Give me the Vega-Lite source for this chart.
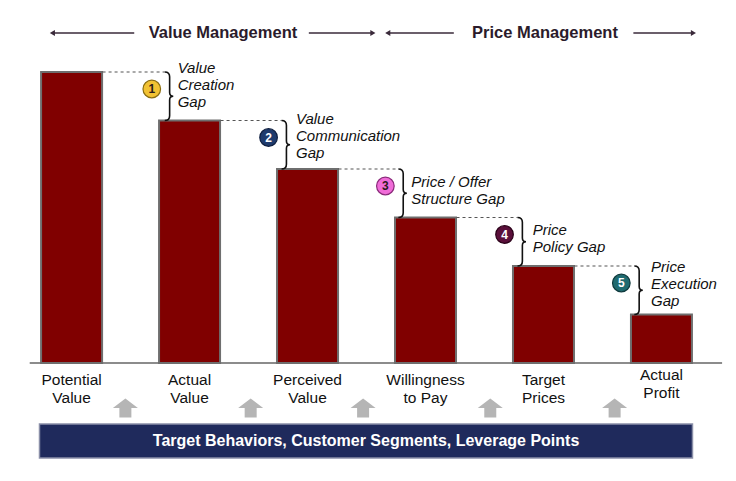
{
  "$schema": "https://vega.github.io/schema/vega-lite/v6.json",
  "width": 736,
  "height": 481,
  "padding": 0,
  "autosize": {"type": "none"},
  "background": "white",
  "config": {"view": {"stroke": null}, "font": "Liberation Sans"},
  "datasets": {
    "bars": [
      {"i": 0, "value": 6, "label": "Potential\nValue", "ly": -0.351},
      {"i": 1, "value": 5, "label": "Actual\nValue", "ly": -0.351},
      {"i": 2, "value": 4, "label": "Perceived\nValue", "ly": -0.351},
      {"i": 3, "value": 3, "label": "Willingness\nto Pay", "ly": -0.351},
      {"i": 4, "value": 2, "label": "Target\nPrices", "ly": -0.351},
      {"i": 5, "value": 1, "label": "Actual\nProfit", "ly": -0.247}
    ],
    "gaps": [
      {"gap": 1, "from": 0, "top": 6, "x": 0.79, "label": "Value\nCreation\nGap", "lx": 0.899, "ly": 6.082},
      {"gap": 2, "from": 1, "top": 5, "x": 1.78, "label": "Value\nCommunication\nGap", "lx": 1.902, "ly": 5.031},
      {"gap": 3, "from": 2, "top": 4, "x": 2.77, "label": "Price / Offer\nStructure Gap", "lx": 2.88, "ly": 3.732},
      {"gap": 4, "from": 3, "top": 3, "x": 3.78, "label": "Price\nPolicy Gap", "lx": 3.909, "ly": 2.742},
      {"gap": 5, "from": 4, "top": 2, "x": 4.77, "label": "Price\nExecution\nGap", "lx": 4.912, "ly": 1.979}
    ],
    "uparrows": [{"x": 0.456}, {"x": 1.518}, {"x": 2.471}, {"x": 3.549}, {"x": 4.603}],
    "banner": [
      {"text": "Target Behaviors, Customer Segments, Leverage Points", "x1": -0.272, "x2": 5.263, "y1": -1.258, "y2": -1.959, "xc": 2.496, "yc": -1.608}
    ],
    "headers": [
      {"label": "Value Management", "xc": 1.283, "y": 6.804},
      {"label": "Price Management", "xc": 4.013, "y": 6.804}
    ],
    "harrows": [
      {"x1": -0.163, "x2": 0.531, "head": -0.163, "dir": "left", "y": 6.804},
      {"x1": 2.011, "x2": 2.554, "head": 2.554, "dir": "right", "y": 6.804},
      {"x1": 2.68, "x2": 3.24, "head": 2.68, "dir": "left", "y": 6.804},
      {"x1": 4.762, "x2": 5.271, "head": 5.271, "dir": "right", "y": 6.804}
    ]
  },
  "layer": [
    {
      "data": {"values": [{}]},
      "mark": {"type": "rule", "stroke": "#8c8c8c", "strokeWidth": 2},
      "encoding": {
        "x": {"datum": -0.355, "type": "quantitative", "scale": {"domain": [-0.5644, 5.5895], "nice": false, "zero": false}, "axis": null},
        "x2": {"datum": 5.514},
        "y": {"datum": 0, "type": "quantitative", "scale": {"domain": [-2.433, 7.4845], "nice": false, "zero": false}, "axis": null}
      }
    },
    {
      "data": {"name": "bars"},
      "mark": {"type": "bar", "width": 61, "orient": "vertical", "fill": "#800000", "stroke": "#6e6e6e", "strokeWidth": 2},
      "encoding": {
        "x": {"field": "i", "type": "quantitative", "axis": null},
        "y": {"field": "value", "type": "quantitative", "axis": null},
        "y2": {"datum": 0}
      }
    },
    {
      "data": {"name": "bars"},
      "mark": {"type": "text", "align": "center", "baseline": "middle", "lineBreak": "\n", "lineHeight": 18, "fontSize": 15.5, "fill": "#111111", "font": "Liberation Sans"},
      "encoding": {
        "x": {"field": "i", "type": "quantitative", "axis": null},
        "y": {"field": "ly", "type": "quantitative", "axis": null},
        "text": {"field": "label"}
      }
    },
    {
      "data": {"name": "gaps"},
      "mark": {"type": "rule", "stroke": "#555555", "strokeWidth": 1.2, "strokeDash": [3, 3], "xOffset": 31},
      "encoding": {
        "x": {"field": "from", "type": "quantitative", "axis": null},
        "x2": {"field": "x"},
        "y": {"field": "top", "type": "quantitative", "axis": null}
      }
    },
    {
      "data": {"name": "gaps"},
      "mark": {"type": "point", "filled": false, "stroke": "#111111", "strokeWidth": 1.6, "opacity": 1, "size": 2352,
        "shape": "M 0 0 Q 0.2 0 0.2 0.2 L 0.2 0.85 Q 0.2 1 0.35 1 Q 0.2 1 0.2 1.15 L 0.2 1.8 Q 0.2 2 0 2"},
      "encoding": {
        "x": {"field": "x", "type": "quantitative", "axis": null},
        "y": {"field": "top", "type": "quantitative", "axis": null}
      }
    },
    {
      "data": {"name": "gaps"},
      "mark": {"type": "point", "shape": "circle", "filled": true, "size": 310, "strokeWidth": 1.2, "opacity": 1, "xOffset": -13, "yOffset": 17},
      "encoding": {
        "x": {"field": "x", "type": "quantitative", "axis": null},
        "y": {"field": "top", "type": "quantitative", "axis": null},
        "fill": {"field": "gap", "type": "nominal", "legend": null,
          "scale": {"domain": [1, 2, 3, 4, 5], "range": ["#f2c233", "#1f3b6d", "#f06cd8", "#5a0f3a", "#1f6b70"]}},
        "stroke": {"field": "gap", "type": "nominal", "legend": null,
          "scale": {"domain": [1, 2, 3, 4, 5], "range": ["#8a6d10", "#0f1f40", "#8a2a7a", "#2a0018", "#0f3a3d"]}}
      }
    },
    {
      "data": {"name": "gaps"},
      "mark": {"type": "text", "align": "center", "baseline": "middle", "fontSize": 12, "fontWeight": "bold", "xOffset": -13, "yOffset": 17.5, "font": "Liberation Sans"},
      "encoding": {
        "x": {"field": "x", "type": "quantitative", "axis": null},
        "y": {"field": "top", "type": "quantitative", "axis": null},
        "text": {"field": "gap"},
        "color": {"condition": {"test": "datum.gap == 1 || datum.gap == 3", "value": "#2a1a1a"}, "value": "#ffffff"}
      }
    },
    {
      "data": {"name": "gaps"},
      "mark": {"type": "text", "align": "left", "baseline": "middle", "lineBreak": "\n", "lineHeight": 17, "fontSize": 15, "fontStyle": "italic", "fill": "#111111", "font": "Liberation Sans"},
      "encoding": {
        "x": {"field": "lx", "type": "quantitative", "axis": null},
        "y": {"field": "ly", "type": "quantitative", "axis": null},
        "text": {"field": "label"}
      }
    },
    {
      "data": {"name": "uparrows"},
      "mark": {"type": "point", "filled": true, "fill": "#b5b5b5", "strokeWidth": 0, "opacity": 1, "size": 625,
        "shape": "M 0 -0.76 L 1 0 L 0.48 0 L 0.48 0.76 L -0.48 0.76 L -0.48 0 L -1 0 Z"},
      "encoding": {
        "x": {"field": "x", "type": "quantitative", "axis": null},
        "y": {"datum": -0.928, "type": "quantitative", "axis": null}
      }
    },
    {
      "data": {"name": "banner"},
      "mark": {"type": "rect", "fill": "#1f2a5c", "stroke": "#8a8fa8", "strokeWidth": 1.5},
      "encoding": {
        "x": {"field": "x1", "type": "quantitative", "axis": null},
        "x2": {"field": "x2"},
        "y": {"field": "y1", "type": "quantitative", "axis": null},
        "y2": {"field": "y2"}
      }
    },
    {
      "data": {"name": "banner"},
      "mark": {"type": "text", "align": "center", "baseline": "middle", "fontSize": 16, "fontWeight": "bold", "fill": "#ffffff", "font": "Liberation Sans"},
      "encoding": {
        "x": {"field": "xc", "type": "quantitative", "axis": null},
        "y": {"field": "yc", "type": "quantitative", "axis": null},
        "text": {"field": "text"}
      }
    },
    {
      "data": {"name": "headers"},
      "mark": {"type": "text", "align": "center", "baseline": "middle", "fontSize": 16.5, "fontWeight": "bold", "fill": "#2b1b2b", "font": "Liberation Sans"},
      "encoding": {
        "x": {"field": "xc", "type": "quantitative", "axis": null},
        "y": {"field": "y", "type": "quantitative", "axis": null},
        "text": {"field": "label"}
      }
    },
    {
      "data": {"name": "harrows"},
      "mark": {"type": "rule", "stroke": "#3a2a3a", "strokeWidth": 1.5},
      "encoding": {
        "x": {"field": "x1", "type": "quantitative", "axis": null},
        "x2": {"field": "x2"},
        "y": {"field": "y", "type": "quantitative", "axis": null}
      }
    },
    {
      "data": {"name": "harrows"},
      "mark": {"type": "point", "filled": true, "fill": "#3a2a3a", "strokeWidth": 0, "opacity": 1, "size": 35},
      "encoding": {
        "x": {"field": "head", "type": "quantitative", "axis": null},
        "y": {"field": "y", "type": "quantitative", "axis": null},
        "shape": {"field": "dir", "type": "nominal", "legend": null,
          "scale": {"domain": ["left", "right"], "range": ["triangle-left", "triangle-right"]}}
      }
    }
  ]
}
